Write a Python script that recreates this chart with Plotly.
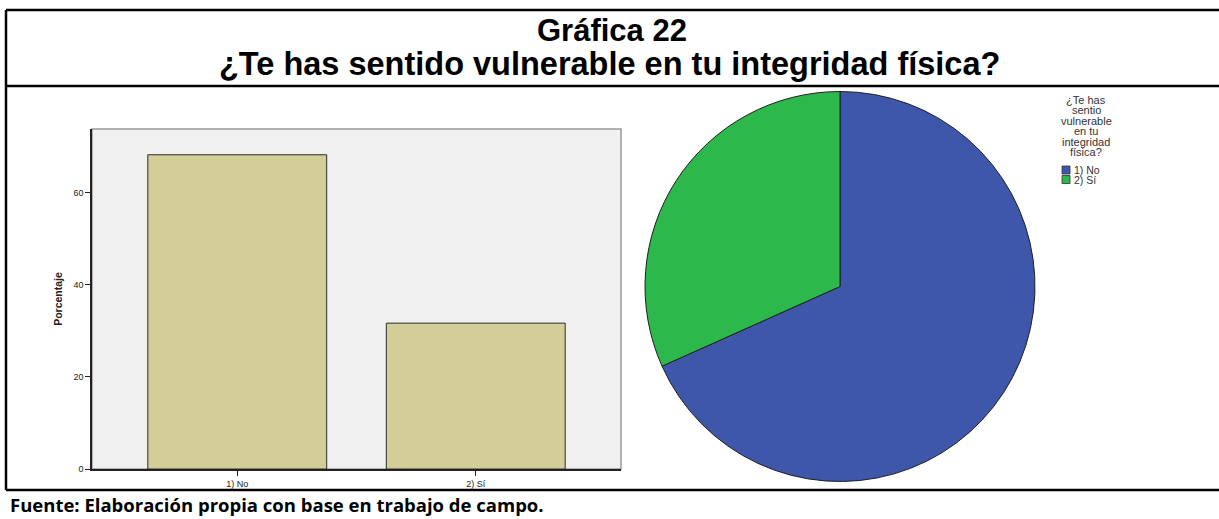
import plotly.graph_objects as go

categorias = ["1) No", "2) Sí"]
porcentajes = [68.3, 31.7]
colores_pie = ["#3F57AB", "#2DB84B"]
ticks_y = [0, 20, 40, 60]
titulo_leyenda = ["¿Te has", "sentio", "vulnerable", "en tu", "integridad", "física?"]

W, H = 1219, 519
H_VISTA = 514  # the snapshot squeezes the page height slightly


def px_x(x):
    return x / W


def px_y(y):
    return 1 - y / H_VISTA


fig = go.Figure()

fig.add_trace(go.Bar(
    x=[0, 1], y=porcentajes,
    width=0.75,
    marker=dict(color="#D3CE98", line=dict(color="#2b2b2b", width=1)),
    showlegend=False, hoverinfo="skip",
))

fig.add_trace(go.Pie(
    labels=categorias, values=porcentajes,
    marker=dict(colors=colores_pie, line=dict(color="#1f1f1f", width=1)),
    sort=False, direction="clockwise", rotation=0,
    textinfo="none", hoverinfo="label+percent", showlegend=False,
    domain=dict(x=[px_x(645), px_x(1035)], y=[px_y(482), px_y(91)]),
))

fig.update_layout(
    width=W, height=H,
    margin=dict(l=0, r=0, t=0, b=0),
    paper_bgcolor="white",
    plot_bgcolor="#F0F0F0",
    font=dict(family="Liberation Sans, Arial, sans-serif", color="#222"),
    xaxis=dict(
        domain=[px_x(92), px_x(621)], range=[-0.609, 1.609],
        tickvals=[0, 1], ticktext=categorias,
        tickfont=dict(size=9), ticks="outside", ticklen=5, tickcolor="#222",
        showline=True, linecolor="#222", linewidth=1.5,
        showgrid=False, zeroline=False, fixedrange=True,
    ),
    yaxis=dict(
        domain=[px_y(469), px_y(129)], range=[0, 73.9],
        tickvals=ticks_y, tickfont=dict(size=9), ticks="outside", ticklen=5, tickcolor="#222",
        showline=True, linecolor="#222", linewidth=1.5,
        showgrid=False, zeroline=False, fixedrange=True,
        title=dict(text="<b>Porcentaje</b>", font=dict(size=10.5), standoff=9),
    ),
    showlegend=False,
)

# gray frame on the top / right of the bar plot area
fig.add_shape(type="rect", xref="paper", yref="paper",
              x0=px_x(92), x1=px_x(621), y0=px_y(469), y1=px_y(129),
              line=dict(color="#999", width=1.5), layer="below")

# outer box lines of the document figure
for (x0, y0, x1, y1) in [(6, 10, W, 10), (6, 86, W, 86), (6, 490, W, 490), (6, 10, 6, 490)]:
    fig.add_shape(type="line", xref="paper", yref="paper",
                  x0=px_x(x0), y0=px_y(y0), x1=px_x(x1), y1=px_y(y1),
                  line=dict(color="black", width=2.5))

fig.add_annotation(text="<b>Gráfica 22</b>", x=px_x(612), y=px_y(30),
                   xref="paper", yref="paper", showarrow=False, yanchor="middle",
                   font=dict(size=31, color="black"))
fig.add_annotation(text="<b>¿Te has sentido vulnerable en tu integridad física?</b>",
                   x=px_x(609), y=px_y(64), xref="paper", yref="paper", showarrow=False,
                   yanchor="middle", font=dict(size=32.5, color="black"))

# legend of the pie (SPSS style, compact)
for i, linea in enumerate(titulo_leyenda):
    fig.add_annotation(text=linea, x=px_x(1086), y=px_y(100 + i * 10.4),
                       xref="paper", yref="paper", xanchor="center", yanchor="middle",
                       showarrow=False, font=dict(size=11, color="#333"))
for i, (cat, col) in enumerate(zip(categorias, colores_pie)):
    yc = 170 + i * 9.5
    fig.add_shape(type="rect", xref="paper", yref="paper",
                  x0=px_x(1062), x1=px_x(1070), y0=px_y(yc + 4), y1=px_y(yc - 4),
                  fillcolor=col, line=dict(color="#333", width=0.8))
    fig.add_annotation(text=cat, x=px_x(1072), y=px_y(yc), xref="paper", yref="paper",
                       xanchor="left", yanchor="middle", showarrow=False,
                       font=dict(size=10.5, color="#333"))

fig.add_annotation(text="<b>Fuente: Elaboración propia con base en trabajo de campo.</b>",
                   x=px_x(8), y=px_y(504), xref="paper", yref="paper",
                   xanchor="left", yanchor="middle", showarrow=False,
                   font=dict(size=18.5, color="black", family="Open Sans, sans-serif"))

fig.write_html(
    "out.html",
    config={"displayModeBar": False},
    post_script=(
        "document.body.style.margin='0';"
        "document.documentElement.style.overflow='hidden';"
        "document.body.style.overflow='hidden';"
    ),
)
